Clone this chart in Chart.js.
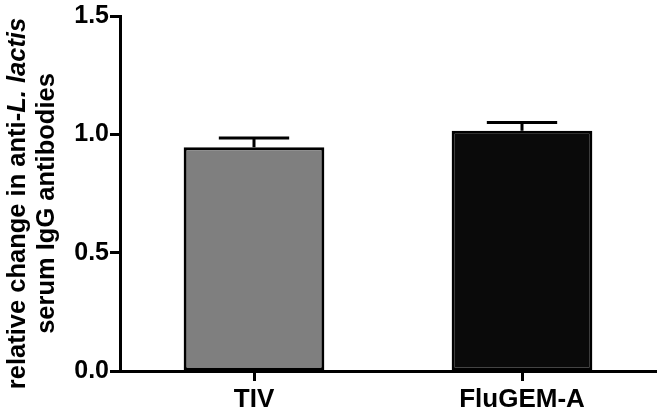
<!DOCTYPE html>
<html>
<head>
<meta charset="utf-8">
<script src="https://cdn.jsdelivr.net/npm/chart.js@4"></script>
<style>
  html, body { margin: 0; padding: 0; background: #fff; }
  #wrap { width: 661px; height: 412px; position: relative; }
</style>
</head>
<body>
<div id="wrap"><canvas id="c" width="661" height="412"></canvas></div>
<script>
const categories = ['TIV', 'FluGEM-A'];
const values = [0.945, 1.015];
const errors = [0.04, 0.035];
const barColors = ['#7f7f7f', '#0a0a0a'];
const yTicks = [0, 0.5, 1.0, 1.5];

const FONT = '"Liberation Sans", Arial, Helvetica, sans-serif';

const errorBarPlugin = {
  id: 'errorBars',
  afterDatasetsDraw(chart) {
    const ctx = chart.ctx;
    const meta = chart.getDatasetMeta(0);
    const y = chart.scales.y;
    ctx.save();
    ctx.strokeStyle = '#000';
    ctx.lineWidth = 3;
    meta.data.forEach((bar, i) => {
      const top = y.getPixelForValue(values[i] + errors[i]);
      const base = y.getPixelForValue(values[i]);
      const capHalf = bar.width / 4;
      ctx.beginPath();
      ctx.moveTo(bar.x, base);
      ctx.lineTo(bar.x, top);
      ctx.moveTo(bar.x - capHalf, top);
      ctx.lineTo(bar.x + capHalf, top);
      ctx.stroke();
    });
    ctx.restore();
  }
};

const axisTitlePlugin = {
  id: 'axisTitle',
  afterDraw(chart) {
    const ctx = chart.ctx;
    const area = chart.chartArea;
    const cy = (area.top + area.bottom) / 2 + 10;
    const size = 25.5;
    const lines = [
      [{t: 'relative change in anti-', it: false}, {t: 'L. lactis', it: true}],
      [{t: 'serum IgG antibodies', it: false}]
    ];
    const xs = [18, 47];
    ctx.save();
    ctx.fillStyle = '#000';
    ctx.textBaseline = 'middle';
    lines.forEach((segs, li) => {
      let total = 0;
      segs.forEach(s => {
        ctx.font = (s.it ? 'italic ' : '') + 'bold ' + size + 'px ' + FONT;
        s.w = ctx.measureText(s.t).width;
        total += s.w;
      });
      ctx.save();
      ctx.translate(xs[li], cy);
      ctx.rotate(-Math.PI / 2);
      let x = -total / 2;
      ctx.textAlign = 'left';
      segs.forEach(s => {
        ctx.font = (s.it ? 'italic ' : '') + 'bold ' + size + 'px ' + FONT;
        ctx.fillText(s.t, x, 0);
        x += s.w;
      });
      ctx.restore();
    });
    ctx.restore();
  }
};

new Chart(document.getElementById('c'), {
  type: 'bar',
  data: {
    labels: categories,
    datasets: [{
      data: values,
      backgroundColor: barColors,
      borderColor: '#000',
      borderWidth: 3,
      borderSkipped: false,
      barPercentage: 0.525,
      categoryPercentage: 1.0
    }]
  },
  options: {
    responsive: false,
    animation: false,
    devicePixelRatio: 1,
    layout: { padding: { top: 15, right: 5, left: 0, bottom: 0 } },
    plugins: {
      legend: { display: false },
      tooltip: { enabled: false },
      title: { display: false }
    },
    scales: {
      x: {
        offset: true,
        grid: {
          display: true,
          drawOnChartArea: false,
          drawTicks: true,
          offset: false,
          tickLength: 10,
          tickWidth: 3,
          tickColor: '#000'
        },
        border: { display: true, color: '#000', width: 3 },
        ticks: {
          color: '#000',
          padding: 3,
          font: { family: FONT, size: 26, weight: 'bold' }
        },
        afterFit(scale) { scale.height = 41; }
      },
      y: {
        min: 0,
        max: 1.5,
        afterBuildTicks(scale) { scale.ticks = yTicks.map(v => ({ value: v })); },
        grid: {
          display: true,
          drawOnChartArea: false,
          drawTicks: true,
          tickLength: 10,
          tickWidth: 3,
          tickColor: '#000'
        },
        border: { display: true, color: '#000', width: 3 },
        ticks: {
          color: '#000',
          padding: 1,
          font: { family: FONT, size: 25, weight: 'bold' },
          callback: (v) => Number(v).toFixed(1)
        },
        afterFit(scale) { scale.width = 120; }
      }
    }
  },
  plugins: [errorBarPlugin, axisTitlePlugin]
});
</script>
</body>
</html>
